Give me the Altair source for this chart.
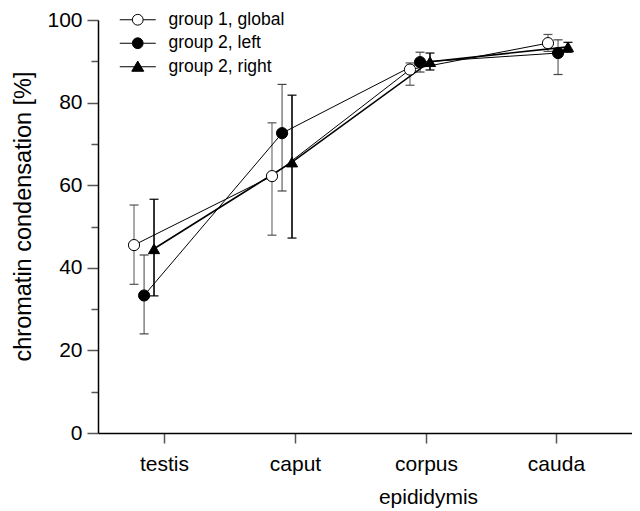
import altair as alt
import pandas as pd

# ---------------- data ----------------
categories = ["testis", "caput", "corpus", "cauda"]
series = ["group 1, global", "group 2, left", "group 2, right"]

mean_g1 = [45.5, 62.2, 88.0, 94.4]
mean_g2l = [33.3, 72.6, 89.8, 92.0]
mean_g2r = [44.6, 65.6, 89.9, 93.5]

low_g1 = [36.0, 47.9, 84.2, 92.4]
low_g2l = [24.0, 58.6, 87.4, 86.8]
low_g2r = [33.2, 47.2, 87.9, 92.2]

high_g1 = [55.2, 75.1, 89.6, 96.5]
high_g2l = [43.1, 84.4, 92.2, 95.2]
high_g2r = [56.6, 81.8, 92.0, 94.6]

y_ticks = [0, 20, 40, 60, 80, 100]

# ---------------- layout / style ----------------
dodge = [-0.145, -0.072, 0.0]          # horizontal offset of each series
tick_pos = [0.0725, 1.0217, 1.971, 2.913]  # where category ticks sit on the x scale
fills = ["white", "black", "black"]
shapes = ["circle", "circle", "triangle-up"]
line_widths = [1.0, 1.0, 1.6]
err_colors = ["#555555", "#444444", "#000000"]
err_widths = [1.0, 1.0, 1.6]
legend_paths = [
    "M-3,0L-0.9,0M0.9,0L3,0M-0.9,0A0.9,0.9,0,1,1,0.9,0A0.9,0.9,0,1,1,-0.9,0Z",
    "M-3,0L-0.9,0M0.9,0L3,0M-0.9,0A0.9,0.9,0,1,1,0.9,0A0.9,0.9,0,1,1,-0.9,0Z",
    "M-3,0L-0.55,0M0.55,0L3,0M0,-0.95L1.0,0.75L-1.0,0.75Z",
]
FONT = "Liberation Sans"

means = [mean_g1, mean_g2l, mean_g2r]
lows = [low_g1, low_g2l, low_g2r]
highs = [high_g1, high_g2l, high_g2r]

rows = []
for j, s in enumerate(series):
    for i, c in enumerate(categories):
        rows.append({
            "series": s, "category": c, "x": i + dodge[j],
            "mean": means[j][i], "lo": lows[j][i], "hi": highs[j][i],
            "fill": fills[j], "shape": shapes[j], "lw": line_widths[j],
            "ecol": err_colors[j], "ew": err_widths[j],
        })
df = pd.DataFrame(rows)

cat_js = "[" + ",".join("'%s'" % c for c in categories) + "]"

x_axis = alt.Axis(
    values=tick_pos, labelExpr=cat_js + "[round(datum.value)]",
    title="epididymis", titleX=330, titleY=70, titleAlign="center",
    titleBaseline="alphabetic", titleAngle=0,
    tickSize=10, tickColor="#555555", tickWidth=1.5,
    labelPadding=27, labelBaseline="alphabetic",
    domainColor="black", domainWidth=1.5, grid=False,
)
y_axis = alt.Axis(
    values=list(range(0, 101, 10)),
    labelExpr="indexof(" + str(y_ticks) + ", datum.value) >= 0 ? datum.label : ''",
    tickSize={"condition": {"test": "datum.value % 20 === 0", "value": 11}, "value": 7},
    tickColor="#555555", tickWidth=1.5, labelPadding=5,
    title="chromatin condensation [%]", titleX=-75, titleY=196,
    titleBaseline="middle", titleFontSize=23.5,
    domainColor="black", domainWidth=1.5, grid=False,
)
x_scale = alt.Scale(domain=[-0.406, 3.464], nice=False, zero=False)
y_scale = alt.Scale(domain=[0, 100], nice=False)

X = alt.X("x:Q", scale=x_scale, axis=x_axis)

def Y(field):
    return alt.Y(field + ":Q", scale=y_scale, axis=y_axis)

base = alt.Chart(df)

err = base.mark_rule().encode(
    x=X, y=Y("lo"), y2="hi:Q",
    color=alt.Color("ecol:N", scale=None),
    strokeWidth=alt.StrokeWidth("ew:Q", scale=None),
)
cap_lo = base.mark_tick(orient="horizontal", size=9, thickness=1.2, opacity=1).encode(
    x=X, y=Y("lo"), color=alt.Color("ecol:N", scale=None))
cap_hi = base.mark_tick(orient="horizontal", size=9, thickness=1.2, opacity=1).encode(
    x=X, y=Y("hi"), color=alt.Color("ecol:N", scale=None))

lines = base.mark_line(color="black").encode(
    x=X, y=Y("mean"), detail="series:N",
    strokeWidth=alt.StrokeWidth("lw:Q", scale=None),
    order="x:Q",
)

points = base.mark_point(filled=True, stroke="black", strokeWidth=1, size=125, opacity=1).encode(
    x=X, y=Y("mean"),
    fill=alt.Fill("fill:N", scale=None),
    shape=alt.Shape("shape:N", scale=None),
)

legend_spec = dict(
    title=None, orient="none", legendX=31, legendY=-9,
    symbolSize=144, symbolStrokeColor="black", symbolStrokeWidth=1,
    labelFont=FONT, labelFontSize=17.5, labelColor="black", labelOffset=22,
    rowPadding=4.5, padding=0, symbolOpacity=1,
)
legend_layer = base.transform_filter("false").mark_point(
    filled=True, stroke="black", strokeWidth=1, size=144, opacity=1
).encode(
    x=X, y=Y("mean"),
    shape=alt.Shape("series:N", scale=alt.Scale(domain=series, range=legend_paths),
                    legend=alt.Legend(**legend_spec)),
    fill=alt.Fill("series:N", scale=alt.Scale(domain=series, range=fills),
                  legend=alt.Legend(**legend_spec)),
)

chart = alt.layer(err, cap_lo, cap_hi, lines, points, legend_layer).properties(
    width=534, height=413,
    padding={"left": 90, "top": 12, "right": 0, "bottom": 78},
    autosize=alt.AutoSizeParams(type="none"),
    background="white",
).configure_view(stroke=None).configure_axis(
    labelFont=FONT, labelFontSize=21, labelColor="black",
    titleFont=FONT, titleFontSize=21, titleColor="black", titleFontWeight="normal",
)

chart.save("out.html", embed_options={"renderer": "svg", "actions": False})
